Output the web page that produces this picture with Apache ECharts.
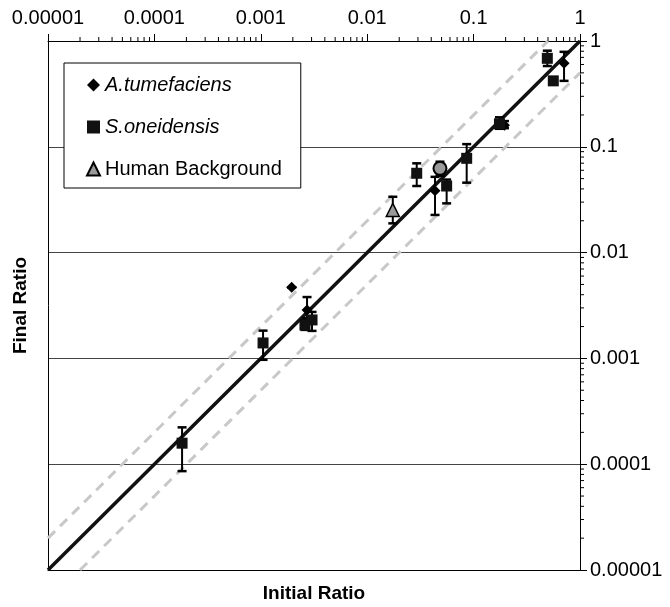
<!DOCTYPE html>
<html>
<head>
<meta charset="utf-8">
<script src="https://cdn.jsdelivr.net/npm/echarts@6/dist/echarts.min.js"></script>
<style>
  body { margin: 0; background: #fff; }
</style>
</head>
<body>
<div id="myChart" style="width: 670px; height: 607px;"></div>
<script>
  // tick labels (top axis = initial ratio, right axis = final ratio)
  var tickLabels = ['0.00001', '0.0001', '0.001', '0.01', '0.1', '1'];
  var minorSteps = [2, 3, 4, 5, 6, 7, 8, 9];
  var decades = [0.00001, 0.0001, 0.001, 0.01, 0.1];

  // [initial, final]
  var atumData = [[0.00195, 0.0047], [0.00272, 0.00287], [0.0434, 0.0385], [0.195, 0.16], [0.708, 0.615]];
  var atumErr = [[0.0047, 0.0047], [0.0024, 0.0038], [0.0227, 0.052], [0.15, 0.175], [0.42, 0.79]];

  var soneData = [[0.000182, 0.000158], [0.00105, 0.0014], [0.0026, 0.00207], [0.00303, 0.00231],
    [0.0292, 0.0562], [0.0558, 0.0426], [0.0861, 0.0778], [0.175, 0.165], [0.493, 0.686], [0.561, 0.42]];
  var soneErr = [[0.000086, 0.000223], [0.00097, 0.00183], [0.00186, 0.0023], [0.00182, 0.00275],
    [0.0426, 0.0698], [0.0292, 0.049], [0.0458, 0.106], [0.148, 0.19], [0.58, 0.81], [0.39, 0.45]];

  var humanData = [[0.0174, 0.0253]];
  var humanErr = [[0.0189, 0.0337]];

  var circleData = [[0.0483, 0.0626]];
  var circleErr = [[0.0533, 0.0723]];

  // reference lines y = x, y = 2x, y = x/2
  var lineEqual = [[0.00001, 0.00001], [1, 1]];
  var lineDouble = [[0.00001, 0.00002], [0.5, 1]];
  var lineHalf = [[0.00002, 0.00001], [1, 0.5]];

  var font = "'Liberation Sans', Arial, sans-serif";

  function errRows(pts, errs) {
    return pts.map(function (p, i) { return [p[0], p[1], errs[i][0], errs[i][1]]; });
  }

  function errorSeries(rows) {
    return {
      type: 'custom',
      silent: true,
      z: 2,
      data: rows,
      renderItem: function (params, api) {
        var x = api.value(0);
        var lo = api.coord([x, api.value(2)]);
        var hi = api.coord([x, api.value(3)]);
        var w = 4.5;
        return {
          type: 'group',
          children: [
            { type: 'line', shape: { x1: lo[0], y1: lo[1], x2: hi[0], y2: hi[1] }, style: { stroke: '#000', lineWidth: 2 } },
            { type: 'line', shape: { x1: lo[0] - w, y1: lo[1], x2: lo[0] + w, y2: lo[1] }, style: { stroke: '#000', lineWidth: 2.5 } },
            { type: 'line', shape: { x1: hi[0] - w, y1: hi[1], x2: hi[0] + w, y2: hi[1] }, style: { stroke: '#000', lineWidth: 2.5 } }
          ]
        };
      }
    };
  }

  var minorX = [];
  var minorY = [];
  decades.forEach(function (d) {
    minorSteps.forEach(function (s) {
      minorX.push([s * d, 1]);
      minorY.push([1, s * d]);
    });
  });

  function labelFor(v) {
    var idx = Math.round(Math.log(v) / Math.LN10) + 5;
    return tickLabels[idx] || '';
  }

  var myChart = echarts.init(document.getElementById('myChart'));

  myChart.setOption({
    backgroundColor: '#fff',
    animation: false,
    textStyle: { fontFamily: font },
    grid: { left: 48, right: 90, top: 41, bottom: 37, outerBoundsMode: 'none', containLabel: false },
    legend: {
      orient: 'vertical',
      left: 64,
      top: 63,
      padding: [12, 19, 9, 22],
      itemGap: 22,
      itemWidth: 13,
      itemHeight: 13,
      backgroundColor: '#fff',
      borderColor: '#000',
      borderWidth: 1,
      borderRadius: 0,
      textStyle: { color: '#000', fontSize: 20, fontFamily: font },
      data: [
        { name: 'A.tumefaciens', textStyle: { fontStyle: 'italic' } },
        { name: 'S.oneidensis', textStyle: { fontStyle: 'italic' } },
        { name: 'Human Background' }
      ]
    },
    xAxis: [
      {
        type: 'log',
        position: 'top',
        min: 0.00001,
        max: 1,
        axisLine: { show: true, lineStyle: { color: '#000', width: 1 } },
        axisTick: { show: true, length: 7, lineStyle: { color: '#000' } },
        axisLabel: {
          color: '#000', fontSize: 20, margin: 13, fontFamily: font,
          formatter: function (v) { return labelFor(v); }
        },
        splitLine: { show: false }
      },
      {
        type: 'log',
        position: 'bottom',
        min: 0.00001,
        max: 1,
        name: 'Initial Ratio',
        nameLocation: 'middle',
        nameGap: 14,
        nameTextStyle: { color: '#000', fontSize: 19, fontWeight: 'bold', fontFamily: font },
        axisLine: { show: true, lineStyle: { color: '#000', width: 1 } },
        axisTick: { show: false },
        axisLabel: { show: false },
        splitLine: { show: false }
      }
    ],
    yAxis: [
      {
        type: 'log',
        position: 'right',
        min: 0.00001,
        max: 1,
        axisLine: { show: true, lineStyle: { color: '#000', width: 1 } },
        axisTick: { show: true, length: 7, lineStyle: { color: '#000' } },
        axisLabel: {
          color: '#000', fontSize: 20, margin: 10, fontFamily: font,
          formatter: function (v) { return labelFor(v); }
        },
        splitLine: { show: true, lineStyle: { color: '#444', width: 1 } }
      },
      {
        type: 'log',
        position: 'left',
        min: 0.00001,
        max: 1,
        name: 'Final Ratio',
        nameLocation: 'middle',
        nameGap: 18,
        nameTextStyle: { color: '#000', fontSize: 19, fontWeight: 'bold', fontFamily: font },
        axisLine: { show: true, lineStyle: { color: '#000', width: 1 } },
        axisTick: { show: false },
        axisLabel: { show: false },
        splitLine: { show: false }
      }
    ],
    series: [
      {
        name: 'y=2x',
        type: 'line',
        z: 1,
        silent: true,
        symbol: 'none',
        data: lineDouble,
        lineStyle: { color: '#c8c8c8', width: 3, type: [10, 7] }
      },
      {
        name: 'y=x/2',
        type: 'line',
        z: 1,
        silent: true,
        symbol: 'none',
        data: lineHalf,
        lineStyle: { color: '#c8c8c8', width: 3, type: [10, 7] }
      },
      {
        name: 'y=x',
        type: 'line',
        z: 1,
        silent: true,
        symbol: 'none',
        data: lineEqual,
        lineStyle: { color: '#111', width: 3.5 }
      },
      errorSeries(errRows(atumData, atumErr)),
      errorSeries(errRows(soneData, soneErr)),
      errorSeries(errRows(humanData, humanErr)),
      errorSeries(errRows(circleData, circleErr)),
      {
        name: 'A.tumefaciens',
        type: 'scatter',
        z: 3,
        symbol: 'diamond',
        symbolSize: 11,
        itemStyle: { color: '#000', opacity: 1 },
        data: atumData
      },
      {
        name: 'S.oneidensis',
        type: 'scatter',
        z: 3,
        symbol: 'rect',
        symbolSize: 11,
        itemStyle: { color: '#111', opacity: 1 },
        data: soneData
      },
      {
        name: 'Human Background',
        type: 'scatter',
        z: 3,
        symbol: 'triangle',
        symbolSize: 13,
        itemStyle: { color: '#999', borderColor: '#000', borderWidth: 1.5, opacity: 1 },
        data: humanData
      },
      {
        name: 'circle',
        type: 'scatter',
        z: 3,
        symbol: 'circle',
        symbolSize: 13,
        itemStyle: { color: '#9a9a9a', borderColor: '#000', borderWidth: 2, opacity: 1 },
        data: circleData
      },
      {
        type: 'custom',
        silent: true,
        clip: false,
        z: 5,
        data: minorX,
        renderItem: function (params, api) {
          var p = api.coord([api.value(0), api.value(1)]);
          return { type: 'line', shape: { x1: p[0], y1: p[1], x2: p[0], y2: p[1] - 4 }, style: { stroke: '#000', lineWidth: 1 } };
        }
      },
      {
        type: 'custom',
        silent: true,
        clip: false,
        z: 5,
        data: minorY,
        renderItem: function (params, api) {
          var p = api.coord([api.value(0), api.value(1)]);
          return { type: 'line', shape: { x1: p[0], y1: p[1], x2: p[0] + 4, y2: p[1] }, style: { stroke: '#000', lineWidth: 1 } };
        }
      }
    ]
  });
</script>
</body>
</html>
